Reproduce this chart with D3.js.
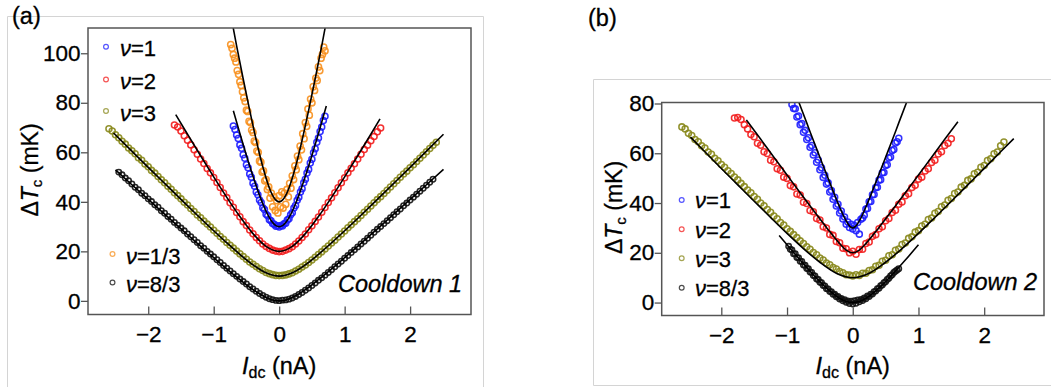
<!DOCTYPE html>
<html><head><meta charset="utf-8">
<script src="https://cdn.jsdelivr.net/npm/d3@7"></script>
<style>
body{margin:0;background:#fff;}
svg{display:block;font-family:"Liberation Sans",Arial,sans-serif;}
svg text{stroke:#000;stroke-width:0.3px;}
</style></head><body>
<svg id="c" width="1051" height="387"></svg>
<script>
// ---------- shared axis tick labels ----------
const xTicks = [-2, -1, 0, 1, 2];
const yTicksA = [0, 20, 40, 60, 80, 100];
const yTicksB = [0, 20, 40, 60, 80];

// ---------- Panel (a), Cooldown 1 : measured points (start current, step, ΔTc values in mK) ----------
const a83_I0 = -2.45, a83_dI = 0.05;
const a83_T = [52.0,50.9,49.6,48.5,47.2,45.9,44.9,43.5,42.5,41.2,40.1,38.8,37.8,36.4,35.4,34.1,33.0,31.7,30.6,29.4,28.3,27.0,25.9,24.7,23.6,22.3,21.3,20.0,18.9,17.8,16.6,15.5,14.3,13.2,12.1,11.0,9.9,8.8,7.8,6.8,5.7,4.8,3.9,3.0,2.2,1.5,0.9,0.5,0.2,0.1,0.3,0.4,0.7,1.2,1.8,2.6,3.4,4.3,5.2,6.2,7.2,8.3,9.3,10.4,11.5,12.6,13.8,14.9,16.0,17.2,18.3,19.5,20.6,21.8,23.0,24.1,25.3,26.5,27.7,28.9,30.0,31.2,32.4,33.6,34.8,36.0,37.1,38.4,39.5,40.7,41.9,43.1,44.3,45.5,46.7,47.9,49.1];
const a3_I0 = -2.60, a3_dI = 0.05;
const a3_T = [69.5,68.6,67.1,65.9,64.5,63.3,61.7,60.6,59.4,57.8,56.8,55.3,54.2,52.7,51.6,50.2,48.9,47.7,46.3,45.1,43.7,42.5,41.2,39.8,38.7,37.3,36.1,34.7,33.6,32.2,31.0,29.8,28.5,27.3,26.0,24.9,23.6,22.5,21.3,20.1,19.0,17.9,16.8,15.7,14.8,13.9,13.0,12.3,11.5,11.0,10.6,10.3,10.2,10.3,10.5,10.9,11.4,12.1,12.8,13.7,14.5,15.5,16.5,17.6,18.7,19.8,21.0,22.2,23.4,24.5,25.8,27.0,28.2,29.5,30.7,32.0,33.2,34.5,35.8,37.0,38.3,39.6,40.9,42.1,43.4,44.7,46.0,47.3,48.6,49.9,51.2,52.4,53.8,55.0,56.3,57.6,58.9,60.2,61.5,62.8,64.1];
const a2_I0 = -1.60, a2_dI = 0.05;
const a2_T = [71.0,70.2,68.6,66.7,64.9,63.0,61.0,59.2,57.3,55.5,53.5,51.7,49.8,47.8,45.8,43.6,41.7,39.6,37.8,35.7,34.0,32.0,30.4,28.6,27.1,25.6,24.3,23.0,22.0,21.2,20.5,20.1,19.9,20.0,20.5,21.1,21.9,23.0,24.2,25.6,27.0,28.7,30.3,32.1,33.9,35.8,37.7,39.7,41.6,43.7,45.7,47.7,49.7,51.7,53.6,55.4,57.3,59.2,61.1,62.9,64.7,66.4,68.3,69.8];
const a1_I0 = -0.70, a1_dI = 0.025;
const a1_T = [70.6,69.2,67.0,65.6,63.0,61.6,59.0,57.6,55.0,53.8,51.2,49.9,47.5,46.3,44.0,42.9,40.7,39.7,37.6,36.9,35.0,34.4,32.8,32.4,31.2,30.9,30.1,30.3,29.8,30.4,30.2,31.1,31.4,32.7,33.2,34.8,35.6,37.5,38.5,40.6,41.8,44.0,45.3,47.7,49.1,51.6,53.1,55.7,57.2,59.8,61.4,64.1,65.8,68.4,70.2,72.8,74.6];
const a13_I0 = -0.74, a13_dI = 0.02;
const a13_T = [103.5,102.0,99.5,98.0,96.5,93.0,91.5,88.5,87.0,84.5,82.0,80.5,77.0,76.5,72.5,72.0,69.0,68.0,64.5,64.0,60.5,60.0,56.5,56.0,52.0,52.5,48.5,49.0,45.0,46.0,41.5,43.5,38.0,42.0,36.5,40.5,35.5,42.5,38.0,44.0,37.5,43.5,39.0,45.0,42.0,47.5,45.5,50.5,49.0,54.5,53.0,58.5,57.0,62.5,61.0,67.5,65.5,72.0,70.5,77.5,75.0,81.5,80.0,86.5,85.0,90.0,89.0,94.5,93.0,98.0,99.5,102.5,101.0];

// ---------- Panel (a) fit curves ----------
const fa83_I = [-2.5,-2.25,-2,-1.75,-1.5,-1.25,-1,-0.8,-0.6,-0.4,-0.2,-0.1,0,0.1,0.2,0.4,0.6,0.8,1,1.25,1.5,1.75,2,2.25,2.51];
const fa83_T = [52.9,46.9,40.96,35.0,29.1,23.2,17.44,12.91,8.55,4.54,1.35,0.36,0,0.36,1.35,4.54,8.55,12.91,17.44,23.2,29.1,35.0,40.96,46.9,53.1];
const fa3_I = [-2.53,-2.25,-2,-1.75,-1.5,-1.25,-1,-0.8,-0.6,-0.4,-0.2,0,0.2,0.4,0.6,0.8,1,1.25,1.5,1.75,2,2.25,2.51];
const fa3_T = [67.8,60.46,53.93,47.45,40.99,34.6,28.32,23.44,18.78,14.57,11.32,10,11.32,14.57,18.78,23.44,28.32,34.6,40.99,47.45,53.93,60.46,67.3];
const fa2_I = [-1.58,-1.4,-1.2,-1,-0.8,-0.6,-0.4,-0.2,0,0.2,0.4,0.6,0.8,1,1.2,1.4,1.54];
const fa2_T = [75.2,67.3,58.6,50.07,41.81,34.04,27.15,22.01,20,22.01,27.15,34.04,41.81,50.07,58.6,67.3,73.5];
const fa1_I = [-0.70,-0.6,-0.5,-0.4,-0.3,-0.25,-0.2,-0.15,-0.1,-0.05,0,0.05,0.1,0.15,0.2,0.25,0.3,0.4,0.5,0.6,0.72];
const fa1_T = [76.8,67.6,58.7,50.3,42.6,39.2,36.2,33.6,31.65,30.42,30,30.42,31.65,33.6,36.2,39.2,42.6,50.3,58.7,67.6,78.7];
const fa13_I = [-0.75,-0.65,-0.55,-0.45,-0.35,-0.25,-0.15,-0.1,-0.05,0,0.05,0.1,0.15,0.25,0.35,0.45,0.55,0.65,0.75];
const fa13_T = [117.0,102.98,89.71,76.92,64.89,54.15,45.6,42.58,40.66,40,40.66,42.58,45.6,54.15,64.89,76.92,89.71,102.98,117.0];

// ---------- Panel (b), Cooldown 2 : measured points ----------
const b1_I0 = -0.925, b1_dI = 0.025;
const b1_T = [79.6,78.0,77.9,74.6,75.0,71.5,72.0,68.4,69.2,65.5,66.2,62.4,63.1,59.3,60.2,56.4,57.3,53.4,54.2,50.3,51.2,47.6,48.1,44.4,45.0,41.5,42.3,38.8,39.5,36.0,36.8,33.6,34.4,31.5,32.4,30.2,31.5,29.6,31.0,28.9,32.2,27.5,33.5,34.0,35.1,37.6,37.8,40.5,40.6,43.3,43.4,46.2,46.3,49.2,49.4,52.2,52.3,55.1,55.4,58.1,58.5,61.1,61.5,64.1,64.6,66.0];
const b2_I0 = -1.80, b2_dI = 0.05;
const b2_T = [74.2,74.4,73.6,71.5,69.8,67.5,66.6,64.0,63.2,60.6,59.9,57.2,56.6,53.8,53.2,50.4,49.9,47.0,46.5,43.6,43.2,40.3,39.8,37.0,36.5,33.8,33.2,30.5,30.0,27.4,27.0,24.5,24.0,21.8,21.6,20.0,20.6,19.4,21.3,21.4,23.7,24.3,26.6,27.3,29.7,30.5,32.9,33.8,36.2,37.1,39.5,40.4,42.9,43.7,46.2,47.1,49.6,50.4,52.9,53.8,56.3,57.2,59.7,60.6,63.1,64.0,65.8];
const b3_I0 = -2.60, b3_dI = 0.05;
const b3_T = [70.6,69.8,68.0,67.1,65.5,64.6,63.0,62.1,60.5,59.6,58.0,57.0,55.5,54.4,53.0,51.9,50.5,49.3,47.9,46.6,45.2,44.1,42.6,41.5,40.0,38.9,37.4,36.3,34.8,33.7,32.2,31.2,29.7,28.6,27.3,26.1,24.8,23.7,22.4,21.4,20.1,19.2,17.9,17.1,15.9,15.2,14.1,13.5,12.5,12.0,11.2,11.1,10.7,11.2,10.9,11.8,11.8,12.9,13.2,14.6,15.0,16.6,17.0,18.8,19.2,21.0,21.5,23.3,23.9,25.8,26.4,28.3,28.9,30.8,31.5,33.4,34.0,35.9,36.6,38.5,39.2,41.1,41.8,43.8,44.4,46.4,47.1,49.1,49.7,51.8,52.4,54.4,55.1,57.1,57.8,59.8,60.5,63.0,64.5];
const b83_I0 = -0.975, b83_dI = 0.025;
const b83_T = [22.6,21.4,21.1,19.6,19.6,18.1,18.0,16.6,16.5,15.1,15.0,13.7,13.6,12.3,12.1,10.9,10.7,9.5,9.3,8.2,8.0,6.9,6.7,5.6,5.5,4.4,4.4,3.3,3.3,2.3,2.4,1.4,1.6,0.7,1.1,0.1,0.6,-0.4,0.5,-0.6,0.7,-0.3,1.0,0.3,1.2,0.8,1.8,1.5,2.6,2.4,3.4,3.4,4.4,4.6,5.6,5.8,6.8,7.1,8.0,8.4,9.3,9.8,10.7,11.2,12.1,12.6,13.1,13.6];

// ---------- Panel (b) fit curves ----------
const fb1_I = [-0.83,-0.7,-0.6,-0.5,-0.4,-0.3,-0.2,-0.15,-0.1,-0.05,0,0.05,0.1,0.15,0.2,0.3,0.4,0.5,0.6,0.7,0.83];
const fb1_T = [81.2,72.2,65.2,58.4,51.6,44.9,38.4,35.4,32.8,30.8,30,30.8,32.8,35.4,38.4,44.9,51.6,58.4,65.2,72.2,81.2];
const fb2_I = [-1.62,-1.4,-1.2,-1,-0.8,-0.6,-0.4,-0.2,-0.1,0,0.1,0.2,0.4,0.6,0.8,1,1.2,1.4,1.6];
const fb2_T = [73.4,65.6,58.4,51.3,44.1,37.1,30.2,23.7,21.1,20,21.1,23.7,30.2,37.1,44.1,51.3,58.4,65.6,72.7];
const fb3_I = [-2.47,-2.25,-2,-1.75,-1.5,-1.25,-1,-0.75,-0.5,-0.25,0,0.25,0.5,0.75,1,1.25,1.5,1.75,2,2.25,2.45];
const fb3_T = [66.5,60.6,53.9,47.3,40.7,34.2,27.8,21.7,16.2,11.8,10,11.8,16.2,21.7,27.8,34.2,40.7,47.3,53.9,60.6,65.9];
const fb83_I = [-1.12,-1,-0.8,-0.6,-0.4,-0.3,-0.2,-0.1,0,0.1,0.2,0.3,0.4,0.6,0.8,1.0];
const fb83_T = [26.96,23.21,17.07,11.2,5.87,3.58,1.7,0.45,0,0.45,1.7,3.58,5.87,11.2,17.07,23.21];

// ---------- colours ----------
const C = {blue:"#1c1cff", red:"#f21c1c", olive:"#87871a", orange:"#f7901e", black:"#111111"};

function pts(i0, di, vals){ return vals.map((v,k)=>[+(i0+k*di).toFixed(4), v]); }
function zip(a,b){ return a.map((v,k)=>[v,b[k]]); }

const FONT = "'Liberation Sans',Arial,sans-serif";
const svg = d3.select("#c");
svg.append("rect").attr("width",1051).attr("height",387).attr("fill","#fff");

// light grey panel frames
svg.append("path").attr("d","M7.5,387 V16.5 H483.5 V387").attr("fill","none").attr("stroke","#d4d4d4").attr("stroke-width",1);
svg.append("path").attr("d","M1051,79.5 H593.5 V385.5 H1051").attr("fill","none").attr("stroke","#d4d4d4").attr("stroke-width",1);

function panel(o){
  const x = d3.scaleLinear().domain(o.xd).range([o.left,o.right]);
  const y = d3.scaleLinear().domain(o.yd).range([o.bottom,o.top]);
  const g = svg.append("g");
  const cid = "clip"+o.id;
  g.append("clipPath").attr("id",cid).append("rect")
    .attr("x",o.left).attr("y",o.top).attr("width",o.right-o.left).attr("height",o.bottom-o.top);

  // axes
  const gx = g.append("g").attr("transform",`translate(0,${o.bottom})`)
    .call(d3.axisBottom(x).tickValues(xTicks).tickFormat(d3.format("d")).tickSizeInner(-8).tickSizeOuter(0).tickPadding(12));
  gx.attr("font-size",22.5).attr("font-family",FONT);
  gx.select(".domain").remove();
  gx.selectAll("line").attr("stroke","#555").attr("stroke-width",1.3);
  gx.selectAll("text").attr("fill","#000");
  const gy = g.append("g").attr("transform",`translate(${o.left},0)`)
    .call(d3.axisLeft(y).tickValues(o.yTicks).tickFormat(d3.format("d")).tickSizeInner(7).tickSizeOuter(0).tickPadding(0.5));
  gy.attr("font-size",22.5).attr("font-family",FONT);
  gy.select(".domain").remove();
  gy.selectAll("line").attr("stroke","#555").attr("stroke-width",1.3);
  gy.selectAll("text").attr("fill","#000");

  // data
  const dg = g.append("g").attr("clip-path",`url(#${cid})`);
  o.series.forEach(s=>{
    dg.append("g").selectAll("circle").data(s.data).join("circle")
      .attr("cx",d=>x(d[0])).attr("cy",d=>y(d[1])).attr("r",s.r||3.0)
      .attr("fill","none").attr("stroke",s.color).attr("stroke-width",1.55).attr("stroke-opacity",0.9);
  });
  const line = d3.line().x(d=>x(d[0])).y(d=>y(d[1])).curve(d3.curveMonotoneX);
  o.fits.forEach(f=>{
    dg.append("path").attr("d",line(f)).attr("fill","none").attr("stroke","#000").attr("stroke-width",1.6);
  });

  // box
  g.append("rect").attr("x",o.left).attr("y",o.top).attr("width",o.right-o.left).attr("height",o.bottom-o.top)
    .attr("fill","none").attr("stroke","#555").attr("stroke-width",1.5);

  // y label
  const yl = g.append("text").attr("transform",`translate(${o.ylx},${o.yly}) rotate(-90)`)
    .attr("text-anchor","middle").attr("font-size",23).attr("fill","#000");
  yl.append("tspan").text("Δ");
  yl.append("tspan").attr("font-style","italic").text("T");
  yl.append("tspan").attr("font-size",15).attr("dy",4).text("c");
  yl.append("tspan").attr("dy",-4).text(" (mK)");
  // x label
  const xl = g.append("text").attr("x",x(0)).attr("y",374).attr("text-anchor","middle").attr("font-size",23.5).attr("fill","#000");
  xl.append("tspan").attr("font-style","italic").text("I");
  xl.append("tspan").attr("font-size",16).attr("dy",4).text("dc");
  xl.append("tspan").attr("dy",-4).text(" (nA)");

  // legend
  o.legend.forEach(l=>{
    g.append("circle").attr("cx",l.mx).attr("cy",l.my).attr("r",2.4).attr("fill","none")
      .attr("stroke",l.color).attr("stroke-width",1.2).attr("stroke-opacity",0.75);
    const t = g.append("text").attr("x",l.tx).attr("y",l.ty).attr("font-size",22).attr("fill","#000");
    t.append("tspan").attr("font-style","italic").text("ν");
    t.append("tspan").text("=" + l.label);
  });
  g.append("text").attr("x",o.cdx).attr("y",o.cdy).attr("font-size",23.5).attr("font-style","italic")
    .attr("fill","#000").text(o.cooldown);
}

panel({
  id:"a", left:88, right:471, top:28, bottom:314.5, xd:[-2.92,2.93], yd:[-5.5,110.2], yTicks:yTicksA,
  series:[
    {data:pts(a83_I0,a83_dI,a83_T), color:C.black, r:2.7},
    {data:pts(a3_I0,a3_dI,a3_T), color:C.olive},
    {data:pts(a2_I0,a2_dI,a2_T), color:C.red},
    {data:pts(a1_I0,a1_dI,a1_T), color:C.blue},
    {data:pts(a13_I0,a13_dI,a13_T), color:C.orange, r:3.1}
  ],
  fits:[zip(fa83_I,fa83_T),zip(fa3_I,fa3_T),zip(fa2_I,fa2_T),zip(fa1_I,fa1_T),zip(fa13_I,fa13_T)],
  ylx:37.5, yly:170,
  legend:[
    {mx:106,my:46.7,tx:120,ty:56,color:C.blue,label:"1"},
    {mx:106,my:79.5,tx:120,ty:88.5,color:C.red,label:"2"},
    {mx:106,my:111,tx:120,ty:120.5,color:C.olive,label:"3"},
    {mx:112.5,my:254,tx:126,ty:263.5,color:C.orange,label:"1/3"},
    {mx:112.5,my:282.5,tx:126,ty:291.5,color:C.black,label:"8/3"}
  ],
  cooldown:"Cooldown 1", cdx:338, cdy:291.5
});

panel({
  id:"b", left:661.7, right:1044, top:102.5, bottom:315.5, xd:[-2.907,2.91], yd:[-5.2,80.4], yTicks:yTicksB,
  series:[
    {data:pts(b83_I0,b83_dI,b83_T), color:C.black, r:2.7},
    {data:pts(b3_I0,b3_dI,b3_T), color:C.olive},
    {data:pts(b2_I0,b2_dI,b2_T), color:C.red},
    {data:pts(b1_I0,b1_dI,b1_T), color:C.blue}
  ],
  fits:[zip(fb83_I,fb83_T),zip(fb3_I,fb3_T),zip(fb2_I,fb2_T),zip(fb1_I,fb1_T)],
  ylx:622, yly:207.5,
  legend:[
    {mx:681.7,my:200,tx:695,ty:208.3,color:C.blue,label:"1"},
    {mx:681.7,my:229.3,tx:695,ty:237.6,color:C.red,label:"2"},
    {mx:681.7,my:258.3,tx:695,ty:266.6,color:C.olive,label:"3"},
    {mx:681.7,my:287.7,tx:695,ty:296,color:C.black,label:"8/3"}
  ],
  cooldown:"Cooldown 2", cdx:913, cdy:290
});

// panel letters
svg.append("text").attr("x",12).attr("y",24).attr("font-size",23.5).attr("fill","#000").text("(a)");
svg.append("text").attr("x",588).attr("y",25.5).attr("font-size",23.5).attr("fill","#000").text("(b)");
</script></body></html>
